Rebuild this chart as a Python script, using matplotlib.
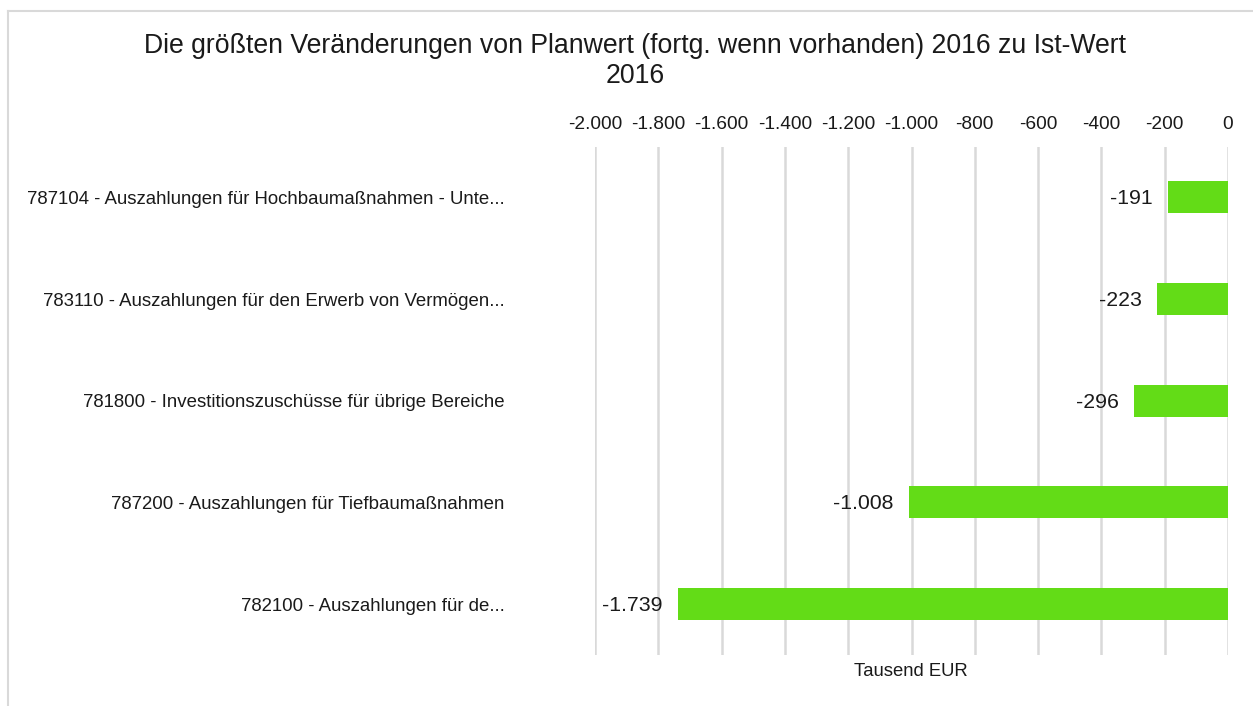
import matplotlib
matplotlib.use("Agg")
import matplotlib.pyplot as plt
from matplotlib.lines import Line2D

plt.rcParams['font.family'] = ['Liberation Sans', 'DejaVu Sans']

# data (top to bottom)
categories = [
    "787104 - Auszahlungen für Hochbaumaßnahmen - Unte...",
    "783110 - Auszahlungen für den Erwerb von Vermögen...",
    "781800 - Investitionszuschüsse für übrige Bereiche",
    "787200 - Auszahlungen für Tiefbaumaßnahmen",
    "782100 - Auszahlungen für de...",
]
values = [-191, -223, -296, -1008, -1739]
xticks = [-2000, -1800, -1600, -1400, -1200, -1000, -800, -600, -400, -200, 0]


def de_fmt(v):
    return f"{v:,.0f}".replace(",", ".")


fig = plt.figure(figsize=(12.53, 7.06), dpi=100)
ax = fig.add_axes([595/1253, 1-655/706, (1228-595)/1253, (655-146.5)/706])

ypos = list(range(len(categories)))
ax.barh(ypos, values, height=0.315, color='#63DC17', zorder=3)

for y, v in zip(ypos, values):
    ax.annotate(de_fmt(v), xy=(v, y), xytext=(-11, -1), textcoords='offset points',
                ha='right', va='center', fontsize=15.3, color='#1a1a1a')

ax.set_xlim(-2000, 0)
ax.set_ylim(len(categories)-0.5, -0.5)
ax.xaxis.tick_top()
ax.set_xticks(xticks)
ax.set_xticklabels([de_fmt(t) for t in xticks])
ax.set_yticks(ypos)
ax.set_yticklabels(categories)
ax.tick_params(axis='x', length=0, pad=10, labelsize=13.8, labelcolor='#1a1a1a')
ax.tick_params(axis='y', length=0, pad=65, labelsize=13.4, labelcolor='#1a1a1a')
ax.grid(axis='x', color='#d9d9d9', linewidth=1.8, zorder=0)
for s in ax.spines.values():
    s.set_visible(False)

fig.text(911/1253, 1-671/706, "Tausend EUR", ha='center', va='center', fontsize=13.3, color='#1a1a1a')
fig.text(635/1253, 1-61/706,
         "Die größten Veränderungen von Planwert (fortg. wenn vorhanden) 2016 zu Ist-Wert\n2016",
         ha='center', va='center', fontsize=19.2, linespacing=1.2, color='#1a1a1a')

# outer frame
fig.add_artist(Line2D([8/1253, 1], [1-11/706, 1-11/706], color='#d9d9d9', linewidth=1.5))
fig.add_artist(Line2D([8/1253, 8/1253], [0, 1-11/706], color='#d9d9d9', linewidth=1.5))

fig.savefig("out.png", dpi=100)
